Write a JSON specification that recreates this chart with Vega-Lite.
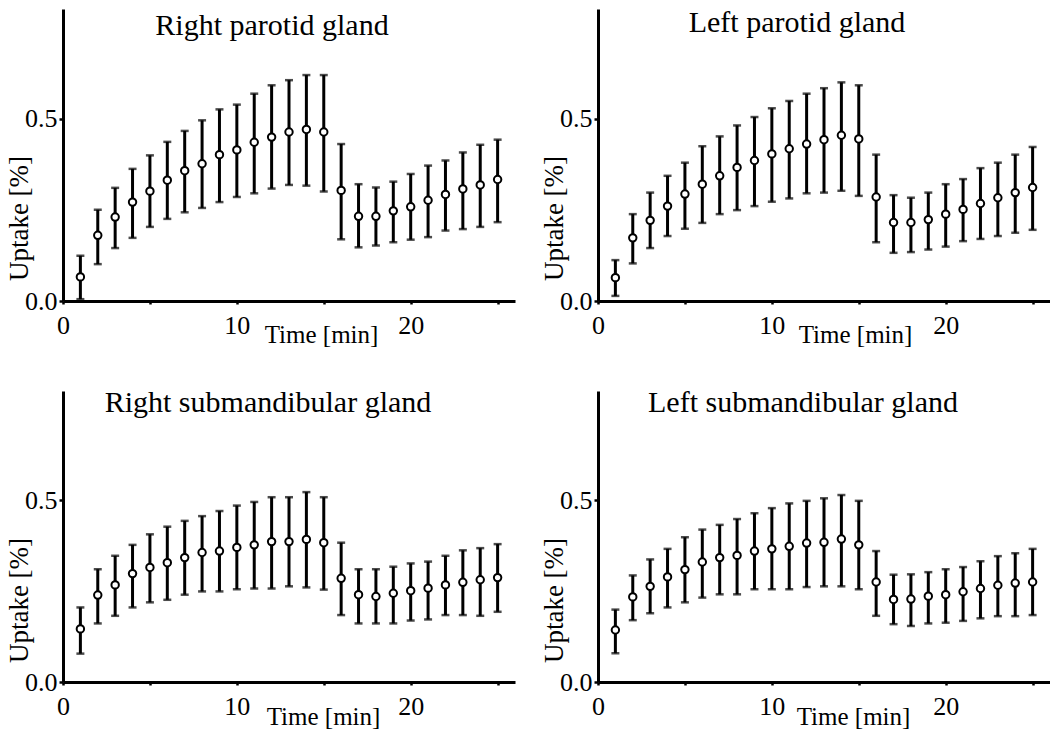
{
  "$schema": "https://vega.github.io/schema/vega-lite/v6.json",
  "padding": {"left": 5, "top": 8, "right": 0, "bottom": 0},
  "background": "white",
  "datasets": {"d": [
    {"g":"RP","t":1,"m":0.066,"lo":0.005,"hi":0.124},
    {"g":"RP","t":2,"m":0.180,"lo":0.101,"hi":0.250},
    {"g":"RP","t":3,"m":0.230,"lo":0.145,"hi":0.310},
    {"g":"RP","t":4,"m":0.271,"lo":0.173,"hi":0.362},
    {"g":"RP","t":5,"m":0.301,"lo":0.203,"hi":0.399},
    {"g":"RP","t":6,"m":0.331,"lo":0.225,"hi":0.436},
    {"g":"RP","t":7,"m":0.357,"lo":0.243,"hi":0.466},
    {"g":"RP","t":8,"m":0.376,"lo":0.255,"hi":0.495},
    {"g":"RP","t":9,"m":0.401,"lo":0.271,"hi":0.525},
    {"g":"RP","t":10,"m":0.414,"lo":0.285,"hi":0.538},
    {"g":"RP","t":11,"m":0.435,"lo":0.295,"hi":0.568},
    {"g":"RP","t":12,"m":0.449,"lo":0.308,"hi":0.591},
    {"g":"RP","t":13,"m":0.463,"lo":0.318,"hi":0.605},
    {"g":"RP","t":14,"m":0.470,"lo":0.316,"hi":0.619},
    {"g":"RP","t":15,"m":0.463,"lo":0.300,"hi":0.619},
    {"g":"RP","t":16,"m":0.303,"lo":0.169,"hi":0.430},
    {"g":"RP","t":17,"m":0.232,"lo":0.147,"hi":0.320},
    {"g":"RP","t":18,"m":0.232,"lo":0.152,"hi":0.311},
    {"g":"RP","t":19,"m":0.247,"lo":0.161,"hi":0.327},
    {"g":"RP","t":20,"m":0.258,"lo":0.168,"hi":0.348},
    {"g":"RP","t":21,"m":0.276,"lo":0.175,"hi":0.371},
    {"g":"RP","t":22,"m":0.292,"lo":0.193,"hi":0.385},
    {"g":"RP","t":23,"m":0.307,"lo":0.197,"hi":0.407},
    {"g":"RP","t":24,"m":0.318,"lo":0.203,"hi":0.428},
    {"g":"RP","t":25,"m":0.333,"lo":0.216,"hi":0.442},
    {"g":"LP","t":1,"m":0.064,"lo":0.014,"hi":0.112},
    {"g":"LP","t":2,"m":0.173,"lo":0.103,"hi":0.238},
    {"g":"LP","t":3,"m":0.221,"lo":0.145,"hi":0.297},
    {"g":"LP","t":4,"m":0.260,"lo":0.178,"hi":0.343},
    {"g":"LP","t":5,"m":0.293,"lo":0.198,"hi":0.379},
    {"g":"LP","t":6,"m":0.320,"lo":0.214,"hi":0.424},
    {"g":"LP","t":7,"m":0.343,"lo":0.238,"hi":0.451},
    {"g":"LP","t":8,"m":0.366,"lo":0.249,"hi":0.481},
    {"g":"LP","t":9,"m":0.385,"lo":0.260,"hi":0.504},
    {"g":"LP","t":10,"m":0.403,"lo":0.272,"hi":0.528},
    {"g":"LP","t":11,"m":0.417,"lo":0.281,"hi":0.548},
    {"g":"LP","t":12,"m":0.430,"lo":0.295,"hi":0.568},
    {"g":"LP","t":13,"m":0.442,"lo":0.297,"hi":0.583},
    {"g":"LP","t":14,"m":0.454,"lo":0.302,"hi":0.599},
    {"g":"LP","t":15,"m":0.444,"lo":0.288,"hi":0.591},
    {"g":"LP","t":16,"m":0.285,"lo":0.161,"hi":0.401},
    {"g":"LP","t":17,"m":0.215,"lo":0.132,"hi":0.290},
    {"g":"LP","t":18,"m":0.215,"lo":0.134,"hi":0.283},
    {"g":"LP","t":19,"m":0.223,"lo":0.141,"hi":0.297},
    {"g":"LP","t":20,"m":0.238,"lo":0.149,"hi":0.320},
    {"g":"LP","t":21,"m":0.251,"lo":0.164,"hi":0.334},
    {"g":"LP","t":22,"m":0.267,"lo":0.170,"hi":0.364},
    {"g":"LP","t":23,"m":0.283,"lo":0.178,"hi":0.379},
    {"g":"LP","t":24,"m":0.297,"lo":0.187,"hi":0.401},
    {"g":"LP","t":25,"m":0.311,"lo":0.195,"hi":0.422},
    {"g":"RS","t":1,"m":0.146,"lo":0.078,"hi":0.205},
    {"g":"RS","t":2,"m":0.239,"lo":0.161,"hi":0.310},
    {"g":"RS","t":3,"m":0.267,"lo":0.182,"hi":0.347},
    {"g":"RS","t":4,"m":0.298,"lo":0.205,"hi":0.377},
    {"g":"RS","t":5,"m":0.315,"lo":0.219,"hi":0.406},
    {"g":"RS","t":6,"m":0.328,"lo":0.226,"hi":0.427},
    {"g":"RS","t":7,"m":0.342,"lo":0.240,"hi":0.443},
    {"g":"RS","t":8,"m":0.356,"lo":0.249,"hi":0.456},
    {"g":"RS","t":9,"m":0.360,"lo":0.249,"hi":0.470},
    {"g":"RS","t":10,"m":0.370,"lo":0.255,"hi":0.485},
    {"g":"RS","t":11,"m":0.377,"lo":0.257,"hi":0.495},
    {"g":"RS","t":12,"m":0.386,"lo":0.257,"hi":0.508},
    {"g":"RS","t":13,"m":0.386,"lo":0.263,"hi":0.508},
    {"g":"RS","t":14,"m":0.392,"lo":0.260,"hi":0.522},
    {"g":"RS","t":15,"m":0.383,"lo":0.254,"hi":0.508},
    {"g":"RS","t":16,"m":0.285,"lo":0.184,"hi":0.383},
    {"g":"RS","t":17,"m":0.240,"lo":0.161,"hi":0.310},
    {"g":"RS","t":18,"m":0.235,"lo":0.161,"hi":0.310},
    {"g":"RS","t":19,"m":0.244,"lo":0.161,"hi":0.317},
    {"g":"RS","t":20,"m":0.251,"lo":0.169,"hi":0.326},
    {"g":"RS","t":21,"m":0.258,"lo":0.172,"hi":0.331},
    {"g":"RS","t":22,"m":0.267,"lo":0.184,"hi":0.347},
    {"g":"RS","t":23,"m":0.274,"lo":0.184,"hi":0.362},
    {"g":"RS","t":24,"m":0.281,"lo":0.182,"hi":0.368},
    {"g":"RS","t":25,"m":0.287,"lo":0.193,"hi":0.379},
    {"g":"LS","t":1,"m":0.143,"lo":0.079,"hi":0.199},
    {"g":"LS","t":2,"m":0.234,"lo":0.170,"hi":0.293},
    {"g":"LS","t":3,"m":0.263,"lo":0.189,"hi":0.337},
    {"g":"LS","t":4,"m":0.289,"lo":0.205,"hi":0.366},
    {"g":"LS","t":5,"m":0.309,"lo":0.219,"hi":0.398},
    {"g":"LS","t":6,"m":0.330,"lo":0.232,"hi":0.419},
    {"g":"LS","t":7,"m":0.342,"lo":0.241,"hi":0.432},
    {"g":"LS","t":8,"m":0.348,"lo":0.241,"hi":0.448},
    {"g":"LS","t":9,"m":0.360,"lo":0.255,"hi":0.464},
    {"g":"LS","t":10,"m":0.366,"lo":0.255,"hi":0.478},
    {"g":"LS","t":11,"m":0.373,"lo":0.255,"hi":0.491},
    {"g":"LS","t":12,"m":0.382,"lo":0.261,"hi":0.498},
    {"g":"LS","t":13,"m":0.384,"lo":0.263,"hi":0.505},
    {"g":"LS","t":14,"m":0.393,"lo":0.263,"hi":0.514},
    {"g":"LS","t":15,"m":0.377,"lo":0.255,"hi":0.498},
    {"g":"LS","t":16,"m":0.275,"lo":0.182,"hi":0.360},
    {"g":"LS","t":17,"m":0.227,"lo":0.159,"hi":0.295},
    {"g":"LS","t":18,"m":0.228,"lo":0.154,"hi":0.296},
    {"g":"LS","t":19,"m":0.236,"lo":0.161,"hi":0.302},
    {"g":"LS","t":20,"m":0.240,"lo":0.163,"hi":0.310},
    {"g":"LS","t":21,"m":0.248,"lo":0.168,"hi":0.316},
    {"g":"LS","t":22,"m":0.257,"lo":0.175,"hi":0.332},
    {"g":"LS","t":23,"m":0.266,"lo":0.181,"hi":0.346},
    {"g":"LS","t":24,"m":0.272,"lo":0.181,"hi":0.354},
    {"g":"LS","t":25,"m":0.275,"lo":0.184,"hi":0.366}
  ]},
  "columns": 2,
  "spacing": {"row": 90, "column": 83},
  "bounds": "flush",
  "concat": [
    {
      "title": {"text": "Right parotid gland", "offset": -32, "dx": -17},
      "width": 452, "height": 292,
      "data": {"name": "d"},
      "transform": [{"filter": "datum.g == 'RP'"}],
      "layer": [
        {"mark": {"type": "errorbar", "color": "black", "ticks": {"size": 8, "thickness": 2.5, "color": "black"}, "rule": {"strokeWidth": 3, "color": "black"}},
         "encoding": {
           "x": {"field": "t", "type": "quantitative", "scale": {"domain": [0, 26], "nice": false}, "axis": {"title": "Time [min]", "values": [0, 5, 10, 15, 20, 25], "labelExpr": "datum.value % 10 == 0 ? datum.label : ''", "titleX": 258, "titleY": 41}},
           "y": {"field": "lo", "type": "quantitative", "scale": {"domain": [0, 0.8], "nice": false}, "axis": {"title": "Uptake [%]", "values": [0, 0.5], "format": ".1f", "titleX": -44, "titleY": 209}},
           "y2": {"field": "hi"}}},
        {"mark": {"type": "circle", "fill": "white", "stroke": "black", "strokeWidth": 2, "size": 55, "opacity": 1},
         "encoding": {
           "x": {"field": "t", "type": "quantitative", "scale": {"domain": [0, 26], "nice": false}},
           "y": {"field": "m", "type": "quantitative", "scale": {"domain": [0, 0.8], "nice": false}}}}
      ]
    },
    {
      "title": {"text": "Left parotid gland", "offset": -29, "dx": -27},
      "width": 452, "height": 292,
      "data": {"name": "d"},
      "transform": [{"filter": "datum.g == 'LP'"}],
      "layer": [
        {"mark": {"type": "errorbar", "color": "black", "ticks": {"size": 8, "thickness": 2.5, "color": "black"}, "rule": {"strokeWidth": 3, "color": "black"}},
         "encoding": {
           "x": {"field": "t", "type": "quantitative", "scale": {"domain": [0, 26], "nice": false}, "axis": {"title": "Time [min]", "values": [0, 5, 10, 15, 20, 25], "labelExpr": "datum.value % 10 == 0 ? datum.label : ''", "titleX": 257, "titleY": 41}},
           "y": {"field": "lo", "type": "quantitative", "scale": {"domain": [0, 0.8], "nice": false}, "axis": {"title": "Uptake [%]", "values": [0, 0.5], "format": ".1f", "titleX": -44, "titleY": 209}},
           "y2": {"field": "hi"}}},
        {"mark": {"type": "circle", "fill": "white", "stroke": "black", "strokeWidth": 2, "size": 55, "opacity": 1},
         "encoding": {
           "x": {"field": "t", "type": "quantitative", "scale": {"domain": [0, 26], "nice": false}},
           "y": {"field": "m", "type": "quantitative", "scale": {"domain": [0, 0.8], "nice": false}}}}
      ]
    },
    {
      "title": {"text": "Right submandibular gland", "offset": -27, "dx": -21},
      "width": 452, "height": 291,
      "data": {"name": "d"},
      "transform": [{"filter": "datum.g == 'RS'"}],
      "layer": [
        {"mark": {"type": "errorbar", "color": "black", "ticks": {"size": 8, "thickness": 2.5, "color": "black"}, "rule": {"strokeWidth": 3, "color": "black"}},
         "encoding": {
           "x": {"field": "t", "type": "quantitative", "scale": {"domain": [0, 26], "nice": false}, "axis": {"title": "Time [min]", "values": [0, 5, 10, 15, 20, 25], "labelExpr": "datum.value % 10 == 0 ? datum.label : ''", "titleX": 260, "titleY": 42}},
           "y": {"field": "lo", "type": "quantitative", "scale": {"domain": [0, 0.8], "nice": false}, "axis": {"title": "Uptake [%]", "values": [0, 0.5], "format": ".1f", "titleX": -44, "titleY": 209}},
           "y2": {"field": "hi"}}},
        {"mark": {"type": "circle", "fill": "white", "stroke": "black", "strokeWidth": 2, "size": 55, "opacity": 1},
         "encoding": {
           "x": {"field": "t", "type": "quantitative", "scale": {"domain": [0, 26], "nice": false}},
           "y": {"field": "m", "type": "quantitative", "scale": {"domain": [0, 0.8], "nice": false}}}}
      ]
    },
    {
      "title": {"text": "Left submandibular gland", "offset": -27, "dx": -21},
      "width": 452, "height": 291,
      "data": {"name": "d"},
      "transform": [{"filter": "datum.g == 'LS'"}],
      "layer": [
        {"mark": {"type": "errorbar", "color": "black", "ticks": {"size": 8, "thickness": 2.5, "color": "black"}, "rule": {"strokeWidth": 3, "color": "black"}},
         "encoding": {
           "x": {"field": "t", "type": "quantitative", "scale": {"domain": [0, 26], "nice": false}, "axis": {"title": "Time [min]", "values": [0, 5, 10, 15, 20, 25], "labelExpr": "datum.value % 10 == 0 ? datum.label : ''", "titleX": 255, "titleY": 42}},
           "y": {"field": "lo", "type": "quantitative", "scale": {"domain": [0, 0.8], "nice": false}, "axis": {"title": "Uptake [%]", "values": [0, 0.5], "format": ".1f", "titleX": -44, "titleY": 209}},
           "y2": {"field": "hi"}}},
        {"mark": {"type": "circle", "fill": "white", "stroke": "black", "strokeWidth": 2, "size": 55, "opacity": 1},
         "encoding": {
           "x": {"field": "t", "type": "quantitative", "scale": {"domain": [0, 26], "nice": false}},
           "y": {"field": "m", "type": "quantitative", "scale": {"domain": [0, 0.8], "nice": false}}}}
      ]
    }
  ],
  "resolve": {"scale": {"x": "independent", "y": "independent"}},
  "config": {
    "view": {"stroke": null},
    "title": {"font": "Liberation Serif", "fontSize": 30, "fontWeight": "normal", "color": "black", "anchor": "middle", "frame": "group", "baseline": "alphabetic"},
    "axis": {
      "grid": false, "domainWidth": 3, "domainColor": "black",
      "tickWidth": 2.5, "tickColor": "black",
      "labelFlush": false,
      "labelFont": "Liberation Serif", "labelFontSize": 26, "labelColor": "black",
      "titleFont": "Liberation Serif", "titleFontWeight": "normal", "titleColor": "black"
    },
    "axisX": {"tickSize": 3, "labelPadding": 8, "labelBaseline": "top", "titleFontSize": 25, "titleBaseline": "alphabetic", "titleAlign": "center"},
    "axisY": {"tickSize": 4, "labelPadding": 2, "titleFontSize": 27, "titleBaseline": "middle", "titleAlign": "center", "titleAngle": -90}
  }
}
